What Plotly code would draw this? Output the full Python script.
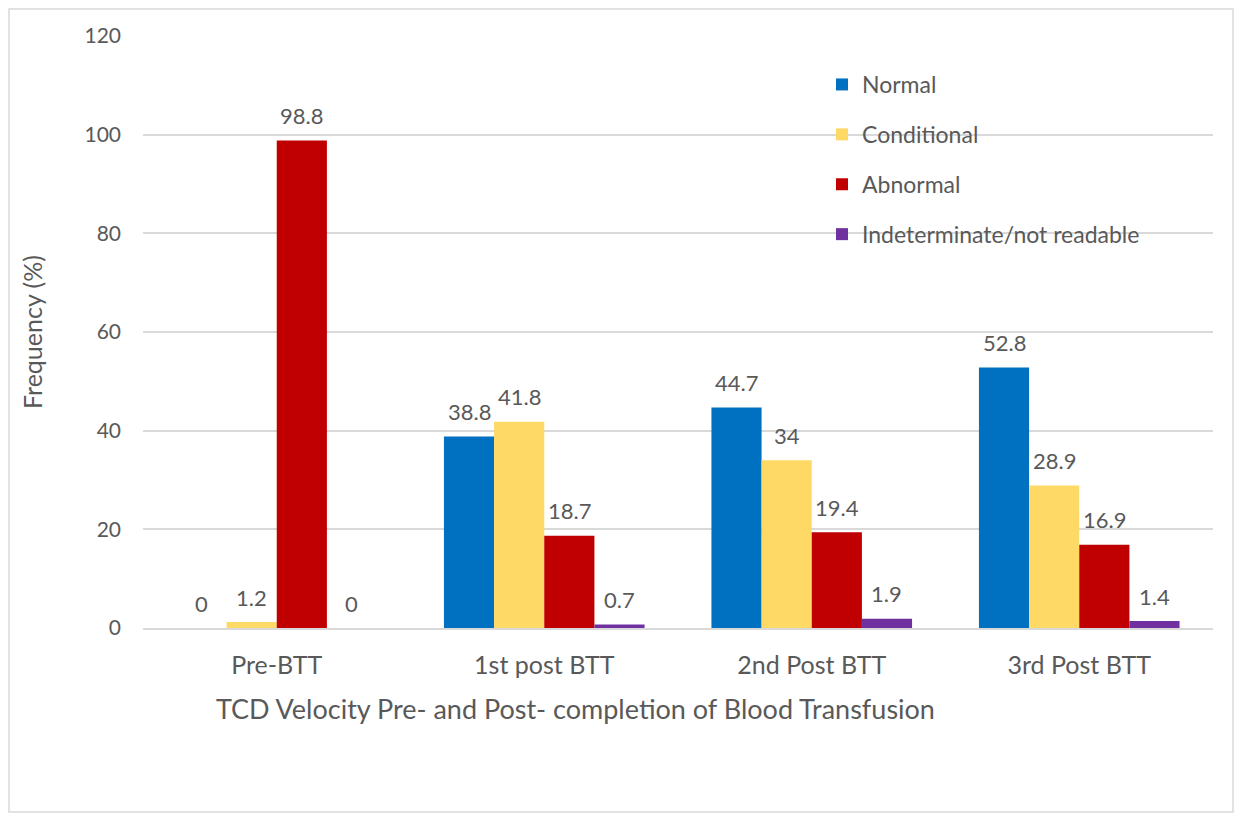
import plotly.graph_objects as go

categories = ["Pre-BTT", "1st post BTT", "2nd Post BTT", "3rd Post BTT"]
series_names = ["Normal", "Conditional", "Abnormal", "Indeterminate/not readable"]
normal = [0, 38.8, 44.7, 52.8]
conditional = [1.2, 41.8, 34, 28.9]
abnormal = [98.8, 18.7, 19.4, 16.9]
indeterminate = [0, 0.7, 1.9, 1.4]
colors = ["#0070C0", "#FFD966", "#C00000", "#7030A0"]
y_ticks = [0, 20, 40, 60, 80, 100, 120]

FONT = "Lato, 'Open Sans', sans-serif"
GRAY = "#595959"

# page body has an 8px margin; keep the figure inside the window
OFF = 8
W, H = 1242 - 2 * OFF, 821 - 2 * OFF
L, T = 143 - OFF, 36 - OFF
R = W + OFF - 1213
B = H + OFF - 628
pw, ph = W - L - R, H - T - B
BARGAP = 0.25
bar_px = pw / len(categories) * (1 - BARGAP) / len(series_names)


def px(x):
    return (x - OFF - L) / pw


def py(y):
    return (H - B - (y - OFF)) / ph


fig = go.Figure()
annotations = []
all_vals = [normal, conditional, abnormal, indeterminate]
for i, (name, vals) in enumerate(zip(series_names, all_vals)):
    fig.add_trace(go.Bar(
        x=categories, y=vals, name=name, legendgroup=name,
        marker=dict(color=colors[i], line=dict(width=0)),
        cliponaxis=False,
    ))
    for c, v in zip(categories, vals):
        annotations.append(dict(
            x=c, y=v, xref="x", yref="y", text=f"{v:g}", showarrow=False,
            xshift=(i - 1.5) * bar_px, yshift=25, xanchor="center", yanchor="middle",
            font=dict(size=22, color=GRAY, family=FONT),
        ))

annotations += [
    dict(text="Frequency (%)", xref="paper", yref="paper",
         x=px(32), y=py(332), textangle=-90, showarrow=False,
         xanchor="center", yanchor="middle",
         font=dict(size=25, color=GRAY, family=FONT)),
    dict(text="TCD Velocity Pre- and Post- completion of Blood Transfusion",
         xref="paper", yref="paper", x=px(575), y=py(708),
         xanchor="center", yanchor="middle",
         showarrow=False, font=dict(size=27, color=GRAY, family=FONT)),
]

fig.update_layout(
    width=W, height=H,
    margin=dict(l=L, r=R, t=T, b=B),
    paper_bgcolor="white", plot_bgcolor="white",
    barmode="group", bargap=BARGAP, bargroupgap=0,
    font=dict(family=FONT, color=GRAY, size=22),
    showlegend=True,
    legend=dict(
        x=px(822), y=py(63), xanchor="left", yanchor="top",
        bgcolor="rgba(0,0,0,0)", font=dict(size=23, color=GRAY, family=FONT),
        tracegroupgap=17, itemwidth=30,
    ),
    xaxis=dict(
        tickfont=dict(size=25, color=GRAY, family=FONT),
        showline=True, linecolor="#d9d9d9", linewidth=1.5, ticks="",
        ticklabelstandoff=14,
    ),
    yaxis=dict(
        range=[0, 120], tickvals=y_ticks, showgrid=True, gridcolor="#d9d9d9", gridwidth=1.5,
        zeroline=False, ticks="", ticklabelstandoff=21,
        tickfont=dict(size=21, color=GRAY, family=FONT),
    ),
    shapes=[dict(
        type="rect", xref="paper", yref="paper",
        x0=px(9), x1=px(1233), y0=py(812), y1=py(9),
        line=dict(color="#d9d9d9", width=1.5), fillcolor="rgba(0,0,0,0)", layer="below",
    )],
    annotations=annotations,
)

fig.write_html("out.html")
